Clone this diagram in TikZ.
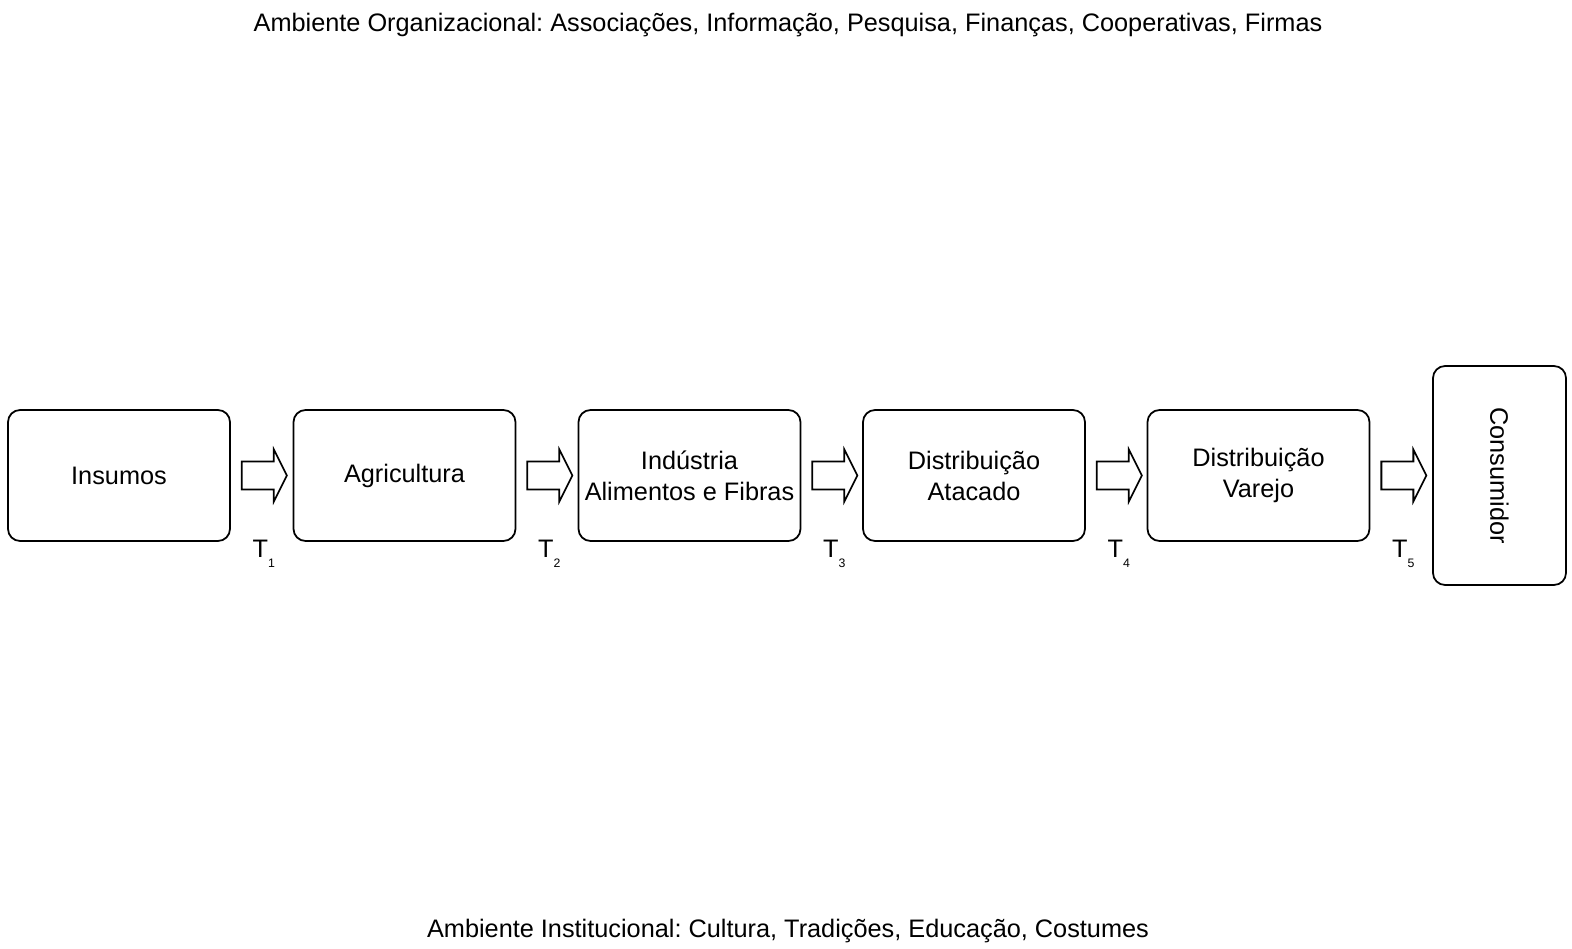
\documentclass[tikz,border=0pt]{standalone}
\usepackage{fontspec}
\setmainfont{Liberation Sans}
\usetikzlibrary{calc}
\frenchspacing

\tikzset{
  elo/.style={draw, line width=1pt, rounded corners=0.24cm, minimum width=4.44cm, minimum height=2.62cm, align=center, inner sep=1pt},
  seta/.style={draw, line width=1pt, line join=miter},
  rotulo/.style={inner sep=0pt}
}

\begin{document}
\begin{tikzpicture}[x=0.02cm, y=-0.02cm, font=\fontsize{14.4}{17.6}\selectfont]
\useasboundingbox (0,0) rectangle (1572,949);
\node (org) at (788,25) {Ambiente Organizacional: Associações, Informação, Pesquisa, Finanças, Cooperativas, Firmas};
\node (inst) at (788,931) {Ambiente Institucional: Cultura, Tradições, Educação, Costumes};
\foreach \n/\x/\txt in {1/119/{Insumos}, 2/404.5/{Agricultura}, 3/689.5/{Indústria\\Alimentos e Fibras}, 4/974/{Distribuição\\Atacado}, 5/1258.5/{Distribuição\\Varejo}} {
  \node[elo] (e\n) at (\x,475.5) {\txt};
}
\node[elo, minimum width=2.66cm, minimum height=4.38cm] (e6) at (1499.5,475.5) {\rotatebox{-90}{Consumidor}};
\foreach \n in {1,...,5} {
  \draw[seta] ($(e\n.east)+(11,-14)$) -- ++(32,0) -- ++(0,-12) -- ++(13,26) -- ++(-13,26) -- ++(0,-12) -- ++(-32,0) -- cycle;
  \node[rotulo] (t\n) at ($(e\n.south east)+(33,12)$) {T\raisebox{-6pt}{\fontsize{7}{8}\selectfont\n}};
}
\end{tikzpicture}
\end{document}
